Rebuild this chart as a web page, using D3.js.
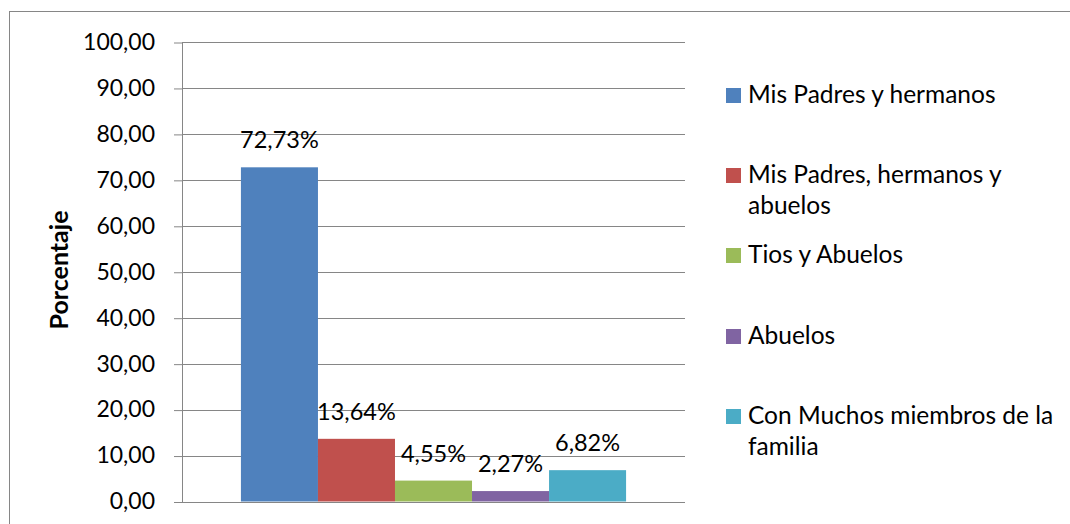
<!DOCTYPE html>
<html>
<head>
<meta charset="utf-8">
<script src="https://cdn.jsdelivr.net/npm/d3@7"></script>
<style>
  body { margin: 0; background: white; }
  text { font-family: Lato, "Open Sans", sans-serif; fill: #000; }
</style>
</head>
<body>
<div id="my_dataviz"></div>
<script>
// data
const series = ["Mis Padres y hermanos", "Mis Padres, hermanos y abuelos", "Tios y Abuelos", "Abuelos", "Con Muchos miembros de la familia"]
const values = [72.73, 13.64, 4.55, 2.27, 6.82]
const colors = ["#4F81BD", "#C0504D", "#9BBB59", "#8064A2", "#4BACC6"]
const yTicks = [0, 10, 20, 30, 40, 50, 60, 70, 80, 90, 100]

const W = 1070, H = 524
const margin = {top: 42, right: 385, bottom: 22.5, left: 182},
    width = W - margin.left - margin.right,
    height = H - margin.top - margin.bottom;

const fmt = v => v.toFixed(2).replace(".", ",")

const root = d3.select("#my_dataviz")
  .append("svg")
    .attr("width", W)
    .attr("height", H)

// chart border (runs off the right and bottom of the picture)
root.append("rect")
  .attr("x", 9.5).attr("y", 11.5)
  .attr("width", W + 20).attr("height", H + 20)
  .attr("fill", "none")
  .attr("stroke", "#868686")
  .attr("stroke-width", 1)

const svg = root.append("g")
    .attr("transform", `translate(${margin.left}, ${margin.top})`);

const y = d3.scaleLinear()
  .domain([0, 100])
  .range([height, 0]);

const x0 = d3.scaleBand()
  .domain(["cat"])
  .range([0, width])
  .paddingOuter(0.153);

const x1 = d3.scaleBand()
  .domain(series)
  .range([0, x0.bandwidth()]);

// gridlines
svg.append("g")
  .selectAll("line")
  .data(yTicks)
  .join("line")
    .attr("x1", 0).attr("x2", width)
    .attr("y1", d => Math.round(y(d)) + 0.5)
    .attr("y2", d => Math.round(y(d)) + 0.5)
    .attr("stroke", "#868686")

// bars
const g = svg.append("g").attr("transform", `translate(${x0("cat")}, 0)`)
g.selectAll("rect")
  .data(values)
  .join("rect")
    .attr("x", (d, i) => x1(series[i]))
    .attr("y", d => y(d))
    .attr("width", x1.bandwidth())
    .attr("height", d => y(0) - y(d))
    .attr("fill", (d, i) => colors[i])

g.selectAll("text.lbl")
  .data(values)
  .join("text")
    .attr("class", "lbl")
    .attr("x", (d, i) => x1(series[i]) + x1.bandwidth() / 2)
    .attr("y", d => y(d) - 19)
    .attr("text-anchor", "middle")
    .style("font-size", "23.5px")
    .text(d => fmt(d) + "%")

// y axis
const yAxis = svg.append("g")
  .call(d3.axisLeft(y).tickValues(yTicks).tickSize(8).tickPadding(19).tickFormat(fmt))
yAxis.select(".domain").attr("stroke", "#868686").attr("d", `M0.5,${Math.round(height)+0.5}V0.5`)
yAxis.selectAll(".tick line").attr("stroke", "#868686")
  .attr("transform", "translate(0,0.5)")
yAxis.selectAll(".tick text")
  .style("font-size", "23px")
  .style("font-family", "Lato, 'Open Sans', sans-serif")
  .attr("fill", "#000")

root.append("text")
  .attr("transform", "translate(68, 270) rotate(-90)")
  .attr("text-anchor", "middle")
  .style("font-size", "25px")
  .style("font-weight", "bold")
  .text("Porcentaje")

// legend
const legend = root.append("g")
const legendY = [95, 175, 255, 336, 416]
series.forEach((s, i) => {
  const item = legend.append("g").attr("transform", `translate(726, ${legendY[i]})`)
  item.append("rect")
    .attr("x", 0).attr("y", -7)
    .attr("width", 15).attr("height", 15)
    .attr("fill", colors[i])
  const t = item.append("text")
    .attr("x", 22).attr("y", 8)
    .style("font-size", "24.5px")
  // wrap the label to fit the space at the right
  const words = s.split(" ")
  let line = []
  let tspan = t.append("tspan").attr("x", 22).attr("dy", 0)
  words.forEach(w => {
    line.push(w)
    tspan.text(line.join(" "))
    if (tspan.node().getComputedTextLength() > 312 && line.length > 1) {
      line.pop()
      tspan.text(line.join(" "))
      line = [w]
      tspan = t.append("tspan").attr("x", 22).attr("dy", 31).text(w)
    }
  })
})
</script>
</body>
</html>
